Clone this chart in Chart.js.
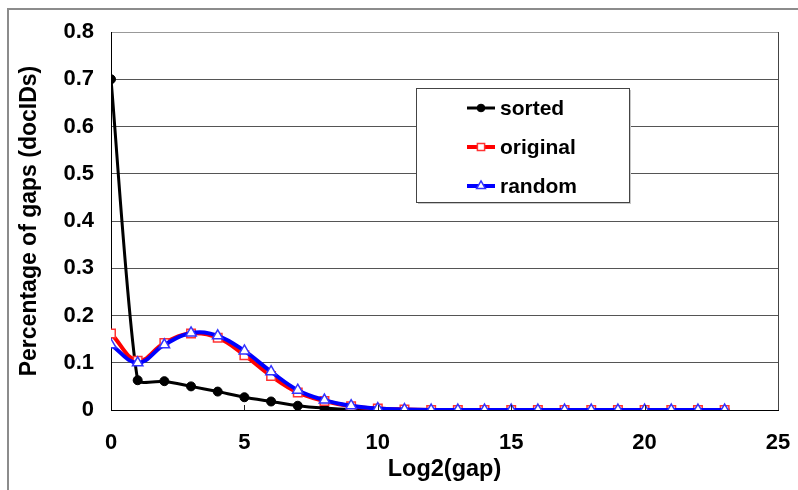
<!DOCTYPE html>
<html>
<head>
<meta charset="utf-8">
<script src="https://cdn.jsdelivr.net/npm/chart.js@4/dist/chart.umd.min.js"></script>
<style>
  html, body { margin: 0; padding: 0; background: #fff; }
  #wrap { width: 798px; height: 490px; position: relative; }
</style>
</head>
<body>
<div id="wrap"><canvas id="c" width="798" height="490"></canvas></div>
<script>
// log2(gap) buckets
const gaps = [0, 1, 2, 3, 4, 5, 6, 7, 8, 9, 10, 11, 12, 13, 14, 15, 16, 17, 18, 19, 20, 21, 22, 23];

// percentage of gaps
const sorted   = [0.70, 0.063, 0.061, 0.050, 0.039, 0.027, 0.018, 0.009, 0.004, 0.001, 0.0005, 0, 0, 0, 0, 0, 0, 0, 0, 0, 0, 0, 0, 0];
const original = [0.162, 0.104, 0.142, 0.162, 0.153, 0.116, 0.072, 0.037, 0.019, 0.008, 0.003, 0.001, 0, 0, 0, 0, 0, 0, 0, 0, 0, 0, 0, 0];
const random   = [0.138, 0.100, 0.138, 0.163, 0.157, 0.125, 0.081, 0.042, 0.021, 0.009, 0.003, 0.001, 0, 0, 0, 0, 0, 0, 0, 0, 0, 0, 0, 0];

const seriesNames = ['sorted', 'original', 'random'];
const xTicks = [0, 5, 10, 15, 20, 25];

const FONT = 'Liberation Sans, Arial, sans-serif';

const toPoints = (ys) => gaps.map((g, i) => ({ x: g, y: ys[i] }));

// outer frame, right plot border and inward x tick marks
const framePlugin = {
  id: 'frame',
  beforeDraw(chart) {
    const ctx = chart.ctx;
    ctx.save();
    ctx.fillStyle = '#ffffff';
    ctx.fillRect(0, 0, chart.width, chart.height);
    ctx.strokeStyle = '#8c8c8c';
    ctx.lineWidth = 2;
    ctx.beginPath();
    ctx.moveTo(8, chart.height);
    ctx.lineTo(8, 9);
    ctx.lineTo(chart.width, 9);
    ctx.stroke();
    ctx.restore();
  },
  afterDatasetsDraw(chart) {
    const ctx = chart.ctx;
    const xs = chart.scales.x;
    const area = chart.chartArea;
    ctx.save();
    ctx.strokeStyle = '#444';
    ctx.lineWidth = 1;
    ctx.beginPath();
    ctx.moveTo(Math.round(area.right) + 0.5, area.top);
    ctx.lineTo(Math.round(area.right) + 0.5, area.bottom);
    ctx.stroke();
    ctx.strokeStyle = '#222';
    xTicks.slice(1, -1).forEach((t) => {
      const px = Math.round(xs.getPixelForValue(t)) + 0.5;
      ctx.beginPath();
      ctx.moveTo(px, area.bottom);
      ctx.lineTo(px, area.bottom - 5);
      ctx.stroke();
    });
    ctx.restore();
  }
};

// boxed legend inside the plot
const legendPlugin = {
  id: 'boxLegend',
  afterDraw(chart) {
    const ctx = chart.ctx;
    const box = { x: 416, y: 88, w: 213, h: 114 };
    ctx.save();
    ctx.fillStyle = '#c8c8c8';
    ctx.fillRect(box.x + 2, box.y + 2, box.w, box.h);
    ctx.fillStyle = '#ffffff';
    ctx.fillRect(box.x, box.y, box.w, box.h);
    ctx.strokeStyle = '#444';
    ctx.lineWidth = 1;
    ctx.strokeRect(box.x + 0.5, box.y + 0.5, box.w, box.h);

    const rows = [108, 147, 186];
    const order = [2, 1, 0]; // dataset index for each legend row
    order.forEach((di, r) => {
      const ds = chart.data.datasets[di];
      const y = rows[r];
      ctx.strokeStyle = ds.borderColor;
      ctx.lineWidth = ds.borderWidth;
      ctx.beginPath();
      ctx.moveTo(467, y);
      ctx.lineTo(495, y);
      ctx.stroke();
      ctx.fillStyle = ds.pointBackgroundColor;
      ctx.strokeStyle = ds.pointBorderColor;
      ctx.lineWidth = ds.pointBorderWidth;
      Chart.helpers.drawPoint(ctx, {
        pointStyle: ds.pointStyle,
        radius: ds.pointRadius * 0.85,
        borderWidth: ds.pointBorderWidth
      }, 481, y);
      ctx.fillStyle = '#000';
      ctx.font = 'bold 21px ' + FONT;
      ctx.textBaseline = 'middle';
      ctx.textAlign = 'left';
      ctx.fillText(ds.label, 500, y + 1);
    });
    ctx.restore();
  }
};

new Chart(document.getElementById('c'), {
  type: 'line',
  data: {
    datasets: [
      {
        label: seriesNames[2],
        data: toPoints(random),
        borderColor: '#0000ff',
        borderWidth: 4,
        pointStyle: 'triangle',
        pointRadius: 6,
        pointBorderWidth: 1.5,
        pointBackgroundColor: '#ffffff',
        pointBorderColor: '#3333ff',
        tension: 0.4,
        order: 0
      },
      {
        label: seriesNames[1],
        data: toPoints(original),
        borderColor: '#ff0000',
        borderWidth: 4,
        pointStyle: 'rect',
        pointRadius: 6,
        pointBorderWidth: 1.5,
        pointBackgroundColor: '#ffffff',
        pointBorderColor: '#ff3333',
        tension: 0.4,
        order: 1
      },
      {
        label: seriesNames[0],
        data: toPoints(sorted),
        borderColor: '#000000',
        borderWidth: 3,
        pointStyle: 'circle',
        pointRadius: 4.5,
        pointBorderWidth: 1,
        pointBackgroundColor: '#000000',
        pointBorderColor: '#000000',
        tension: 0.2,
        order: 2
      }
    ]
  },
  options: {
    responsive: false,
    animation: false,
    events: [],
    layout: { padding: { left: 0, top: 32, right: 20, bottom: 0 } },
    plugins: {
      legend: { display: false },
      tooltip: { enabled: false }
    },
    scales: {
      x: {
        type: 'linear',
        min: 0,
        max: 25,
        afterBuildTicks(scale) { scale.ticks = xTicks.map((v) => ({ value: v })); },
        afterFit(scale) {
          scale.height = 80;
          scale.paddingLeft = 0;
          scale.paddingRight = 0;
        },
        grid: { drawOnChartArea: false, drawTicks: false },
        border: { color: '#000', width: 1 },
        ticks: {
          padding: 20,
          color: '#000',
          font: { family: FONT, size: 22, weight: 'bold' },
          maxRotation: 0
        },
        title: {
          display: true,
          text: 'Log2(gap)',
          color: '#000',
          font: { family: FONT, size: 23.5, weight: 'bold' },
          padding: { top: 0, bottom: 6 }
        }
      },
      y: {
        min: 0,
        max: 0.8,
        afterFit(scale) { scale.width = 111; },
        ticks: {
          stepSize: 0.1,
          padding: 17,
          color: '#000',
          font: { family: FONT, size: 22, weight: 'bold' },
          callback: (v) => (Math.round(v * 10) / 10).toString()
        },
        grid: {
          drawTicks: false,
          color: (c) => (c.tick && c.tick.value >= 0.8 ? '#999' : '#555'),
          lineWidth: 1
        },
        border: { color: '#000', width: 1 },
        title: {
          display: true,
          text: 'Percentage of gaps (docIDs)',
          color: '#000',
          font: { family: FONT, size: 23, weight: 'bold' },
          padding: { top: 16, bottom: 0 }
        }
      }
    }
  },
  plugins: [framePlugin, legendPlugin]
});
</script>
</body>
</html>
